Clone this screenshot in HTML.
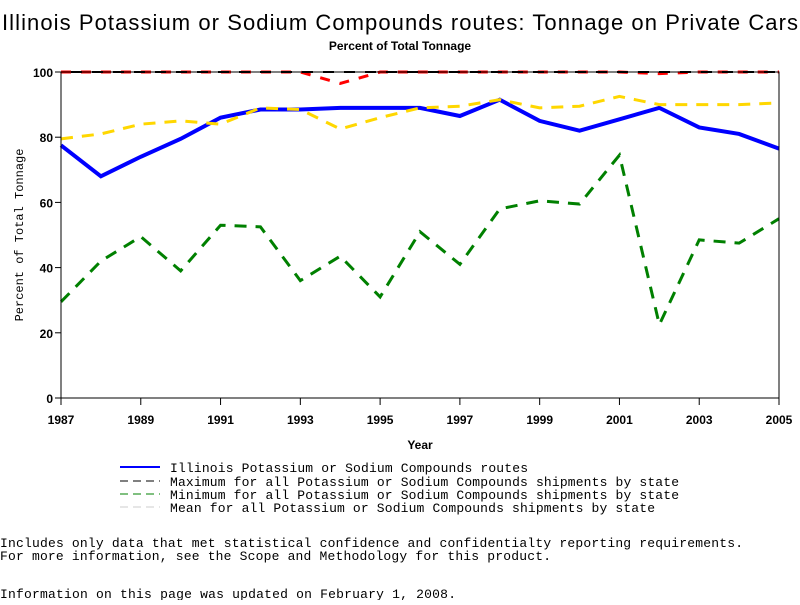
<!DOCTYPE html>
<html><head><meta charset="utf-8"><style>
body{margin:0;background:#fff;width:800px;height:600px;overflow:hidden;font-family:"Liberation Mono",monospace}
</style></head><body>
<svg width="800" height="600">
<text x="400" y="30" text-anchor="middle" font-family="Liberation Sans,sans-serif" font-size="22" textLength="796">Illinois Potassium or Sodium Compounds routes: Tonnage on Private Cars</text>
<text x="400" y="50" text-anchor="middle" font-family="Liberation Sans,sans-serif" font-size="12" font-weight="bold">Percent of Total Tonnage</text>
<g id="plot"></g>
<text x="420" y="449" text-anchor="middle" font-family="Liberation Sans,sans-serif" font-size="12" font-weight="bold">Year</text>
<text transform="translate(23,235) rotate(-90)" text-anchor="middle" font-size="12">Percent of Total Tonnage</text>
<g font-size="13">
<line x1="120" y1="467" x2="160" y2="467" stroke="#00f" stroke-width="2"/>
<text x="170" y="472" textLength="358">Illinois Potassium or Sodium Compounds routes</text>
<line x1="120" y1="481" x2="160" y2="481" stroke="#000" stroke-dasharray="8,5"/>
<text x="170" y="486" textLength="509">Maximum for all Potassium or Sodium Compounds shipments by state</text>
<line x1="120" y1="494" x2="160" y2="494" stroke="#008000" stroke-dasharray="8,5"/>
<text x="170" y="499" textLength="509">Minimum for all Potassium or Sodium Compounds shipments by state</text>
<line x1="120" y1="507" x2="160" y2="507" stroke="#ccc" stroke-dasharray="8,5"/>
<text x="170" y="512" textLength="485">Mean for all Potassium or Sodium Compounds shipments by state</text>
</g>
<g font-size="13">
<text x="0" y="547" textLength="743">Includes only data that met statistical confidence and confidentialty reporting requirements.</text>
<text x="0" y="560" textLength="551">For more information, see the Scope and Methodology for this product.</text>
<text x="0" y="598" textLength="456">Information on this page was updated on February 1, 2008.</text>
</g>
</svg>
<script>
const years=[1987,1988,1989,1990,1991,1992,1993,1994,1995,1996,1997,1998,1999,2000,2001,2002,2003,2004,2005];
const illinois=[77.5,68,74,79.5,86,88.5,88.5,89,89,89,86.5,91.5,85,82,85.5,89,83,81,76.5];
const maxVals=[100,100,100,100,100,100,100,96.5,100,100,100,100,100,100,100,99.5,100,100,100];
const minVals=[29.5,42,49.5,39,53,52.5,36,43.5,31,51,41,58,60.5,59.5,74.5,22.5,48.5,47.5,55];
const meanVals=[79.5,81,84,85,84,89,88.5,82.5,86,89,89.5,91.5,89,89.5,92.5,90,90,90,90.5];
const xTicks=[1987,1989,1991,1993,1995,1997,1999,2001,2003,2005];
const yTicks=[0,20,40,60,80,100];
const L=61,R=779,T=72,B=398;
const xs=y=>L+(y-1987)/(2005-1987)*(R-L);
const ys=v=>B-v/100*(B-T);
const NS="http://www.w3.org/2000/svg";
const g=document.getElementById('plot');
function mk(t,a){const e=document.createElementNS(NS,t);for(const k in a)e.setAttribute(k,a[k]);g.appendChild(e);return e;}
function series(vals,col,w,dash,name){
  const e=mk('polyline',{points:vals.map((v,i)=>xs(years[i])+','+ys(v)).join(' '),fill:'none',stroke:col,'stroke-width':w});
  if(dash)e.setAttribute('stroke-dasharray',dash);
  
  
}
series(illinois,'#00f',4,null,'illinois-line');
series(maxVals,'#f00',3,'10,10','max-line-red');
series(minVals,'#008000',3,'12,9','min-line');
series(meanVals,'#ffd700',3,'12,9','mean-line');
const ax=mk('path',{d:`M${L},${T}V${B}H${R}V${T}H${L}`,fill:'none',stroke:'#000','stroke-width':1});


const mx=mk('line',{x1:L,y1:T,x2:R,y2:T,stroke:'#000','stroke-width':2,'stroke-dasharray':'11,10','stroke-dashoffset':'-10'});


xTicks.forEach(y=>{
  const x=xs(y);
  const t=mk('line',{x1:x,y1:B,x2:x,y2:B+7,stroke:'#000'});
  
  
  const tx=mk('text',{x:x,y:B+26,'text-anchor':'middle','font-family':'Liberation Sans,sans-serif','font-size':12,'font-weight':'bold'});
  tx.textContent=y;
  
  
});
yTicks.forEach(v=>{
  const y=ys(v);
  const t=mk('line',{x1:L-6,y1:y,x2:L,y2:y,stroke:'#000'});
  
  
  const tx=mk('text',{x:L-8,y:y+5,'text-anchor':'end','font-family':'Liberation Sans,sans-serif','font-size':12,'font-weight':'bold'});
  tx.textContent=v;
  
  
});
</script>
</body></html>
